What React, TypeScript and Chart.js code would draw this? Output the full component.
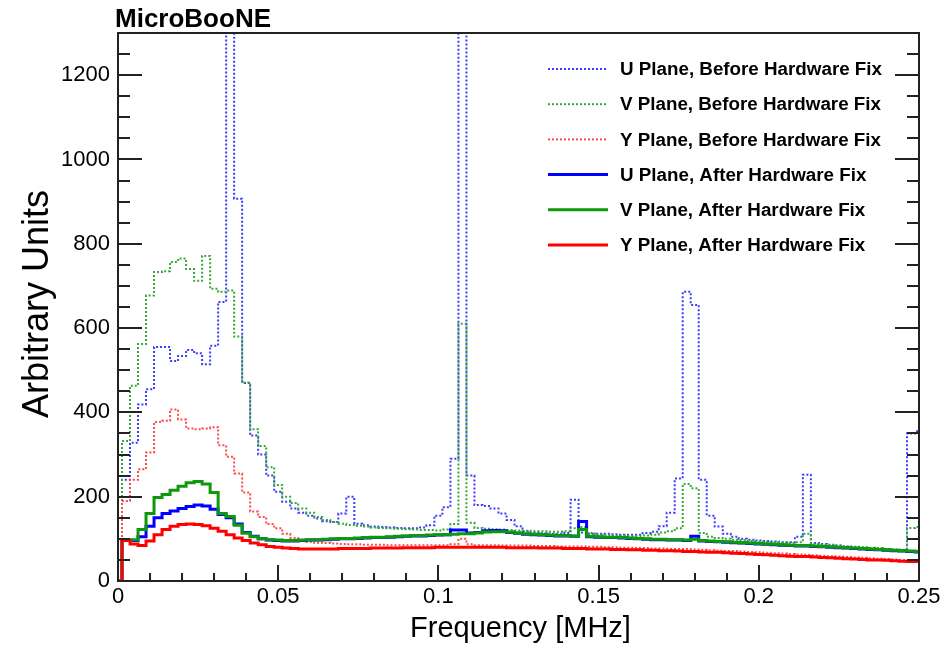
import { useEffect, useRef } from "react";
import { Chart, registerables } from "chart.js";

Chart.register(...registerables);

// Histogram bin width (MHz); bin k is centred on k * BIN_WIDTH
const BIN_WIDTH = 0.0025;

const U_BEFORE = [
  0, 240, 328, 419, 455, 555, 555, 522, 534, 548,
  540, 514, 558, 662, 2500, 907, 470, 345, 300, 250,
  212, 188, 172, 162, 155, 148, 142, 140, 160, 200,
  136, 132, 129, 128, 127, 126, 125, 125, 127, 132,
  155, 175, 290, 2500, 250, 180, 178, 172, 160, 145,
  130, 118, 115, 113, 112, 112, 114, 193, 115, 112,
  112, 112, 111, 110, 110, 110, 114, 117, 130, 162,
  243, 686, 655, 240, 155, 129, 112, 105, 100, 98,
  96, 95, 94, 92, 92, 105, 252, 90, 88, 86,
  84, 82, 80, 79, 78, 77, 76, 74, 73, 350,
  355,
];

const V_BEFORE = [
  0, 332, 463, 562, 677, 733, 735, 757, 765, 740,
  712, 771, 693, 686, 689, 580, 471, 360, 320, 270,
  228, 200, 185, 172, 162, 152, 145, 140, 136, 133,
  131, 129, 127, 126, 125, 124, 123, 122, 121, 121,
  120, 122, 135, 610, 138, 126, 124, 123, 122, 121,
  120, 119, 118, 118, 117, 117, 118, 125, 128, 114,
  110, 109, 108, 108, 107, 107, 108, 110, 115, 118,
  125, 230, 220, 114, 105, 102, 100, 98, 97, 95,
  94, 93, 92, 91, 90, 92, 112, 88, 86, 85,
  84, 82, 81, 80, 79, 78, 76, 75, 74, 126,
  128,
];

const Y_BEFORE = [
  0, 190, 240, 265, 305, 377, 380, 407, 383, 362,
  360, 362, 365, 322, 295, 255, 210, 165, 152, 135,
  125, 112, 102, 96, 93, 91, 90, 89, 88, 87,
  87, 86, 86, 86, 85, 85, 85, 85, 85, 85,
  85, 85, 87, 100, 87, 85, 85, 85, 84, 84,
  84, 84, 83, 83, 83, 82, 82, 82, 82, 81,
  81, 80, 80, 79, 79, 78, 78, 77, 77, 76,
  76, 76, 75, 74, 73, 72, 71, 71, 70, 69,
  68, 67, 66, 65, 64, 63, 62, 61, 60, 59,
  58, 57, 56, 55, 54, 53, 52, 51, 50, 49,
  48,
];

const U_AFTER = [
  0, 96, 96, 105, 130, 150, 160, 166, 172, 177,
  180, 178, 170, 158, 150, 135, 115, 106, 100, 97,
  96, 95, 95, 96, 97, 97, 98, 99, 100, 100,
  101, 102, 103, 103, 104, 105, 106, 107, 107, 108,
  109, 110, 121, 121, 114, 115, 119, 120, 119, 115,
  113, 111, 110, 109, 108, 107, 107, 106, 141, 105,
  104, 103, 103, 102, 101, 100, 99, 98, 98, 97,
  97, 96, 106, 95, 94, 93, 92, 91, 90, 89,
  88, 87, 86, 85, 84, 83, 83, 82, 81, 80,
  79, 78, 77, 76, 75, 74, 73, 72, 71, 70,
  69,
];

const V_AFTER = [
  0, 96, 98, 122, 160, 198, 205, 215, 225, 233,
  236, 230, 210, 160, 153, 132, 113, 105, 100, 98,
  97, 96, 96, 97, 98, 98, 99, 100, 101, 101,
  102, 103, 104, 104, 105, 106, 107, 108, 108, 109,
  110, 110, 111, 112, 112, 114, 116, 117, 117, 116,
  114, 112, 111, 110, 109, 108, 108, 107, 122, 106,
  105, 104, 104, 103, 102, 101, 100, 99, 99, 98,
  98, 97, 99, 96, 95, 94, 93, 92, 91, 90,
  89, 88, 87, 86, 85, 84, 84, 83, 82, 81,
  80, 79, 78, 77, 76, 75, 74, 73, 72, 71,
  70,
];

const Y_AFTER = [
  0, 96, 88, 84, 95, 110, 122, 130, 134, 135,
  134, 131, 125, 118, 110, 102, 96, 90, 86, 82,
  80, 78, 77, 76, 76, 76, 76, 76, 77, 77,
  77, 77, 78, 78, 78, 78, 79, 79, 79, 79,
  80, 80, 80, 80, 80, 80, 80, 80, 80, 79,
  79, 79, 79, 78, 78, 78, 77, 77, 77, 76,
  76, 76, 75, 75, 74, 74, 73, 73, 72, 72,
  71, 70, 70, 69, 68, 68, 67, 66, 65, 64,
  63, 62, 61, 60, 59, 58, 58, 57, 56, 55,
  54, 53, 52, 51, 50, 50, 49, 48, 47, 46,
  46,
];

const SERIES_LABELS = [
  "U Plane, Before Hardware Fix",
  "V Plane, Before Hardware Fix",
  "Y Plane, Before Hardware Fix",
  "U Plane, After Hardware Fix",
  "V Plane, After Hardware Fix",
  "Y Plane, After Hardware Fix",
];

const X_TICKS = [0, 0.05, 0.1, 0.15, 0.2, 0.25];
const Y_TICKS = [0, 200, 400, 600, 800, 1000, 1200];
const X_MIN = 0;
const X_MAX = 0.25;
const Y_MIN = 0;
const Y_MAX = 1300;

const TITLE = "MicroBooNE";
const X_TITLE = "Frequency [MHz]";
const Y_TITLE = "Arbitrary Units";

const FONT = "'Liberation Sans', Arial, Helvetica, sans-serif";

const toPoints = (vals: number[]) =>
  vals.map((v, i) => ({ x: i * BIN_WIDTH, y: v }));

const decorPlugin = {
  id: "rootDecor",
  afterDatasetsDraw(chart: any) {
    const { ctx, chartArea } = chart;
    const { left, right, top, bottom } = chartArea;
    const xs = chart.scales.x;
    const ys = chart.scales.y;
    ctx.save();
    ctx.strokeStyle = "#222";
    ctx.lineWidth = 2;
    ctx.setLineDash([]);
    // y ticks, left and right, major every 200, minor every 50
    for (let v = Y_MIN; v <= Y_MAX; v += 50) {
      const y = Math.round(ys.getPixelForValue(v));
      const major = v % 200 === 0;
      const len = major ? 24 : 12;
      ctx.beginPath();
      ctx.moveTo(left, y);
      ctx.lineTo(left + len, y);
      ctx.moveTo(right, y);
      ctx.lineTo(right - len, y);
      ctx.stroke();
    }
    // x ticks, major every 0.05, minor every 0.01
    for (let i = 0; i <= 25; i++) {
      const x = Math.round(xs.getPixelForValue(i * 0.01));
      const len = i % 5 === 0 ? 16 : 8;
      ctx.beginPath();
      ctx.moveTo(x, bottom);
      ctx.lineTo(x, bottom - len);
      ctx.stroke();
    }
    ctx.strokeRect(left, top, right - left, bottom - top);

    // legend
    const datasets = chart.data.datasets;
    const lx0 = left + 430;
    const lx1 = left + 490;
    const tx = left + 502;
    ctx.font = `bold 18.8px ${FONT}`;
    ctx.textBaseline = "middle";
    ctx.textAlign = "left";
    datasets.forEach((ds: any, i: number) => {
      const y = top + 36 + i * 35.2;
      ctx.beginPath();
      ctx.strokeStyle = ds.borderColor;
      ctx.lineWidth = ds.borderWidth;
      ctx.setLineDash(ds.borderDash || []);
      ctx.moveTo(lx0, y);
      ctx.lineTo(lx1, y);
      ctx.stroke();
      ctx.setLineDash([]);
      ctx.fillStyle = "#000";
      ctx.fillText(ds.label, tx, y + 1);
    });
    ctx.restore();
  },
  afterDraw(chart: any) {
    const { ctx, chartArea } = chart;
    ctx.save();
    ctx.fillStyle = "#000";
    ctx.textBaseline = "alphabetic";
    ctx.font = `bold 26px ${FONT}`;
    ctx.textAlign = "left";
    ctx.fillText(TITLE, chartArea.left - 3, chartArea.top - 6);

    ctx.font = `29px ${FONT}`;
    ctx.textAlign = "center";
    ctx.fillText(X_TITLE, (chartArea.left + chartArea.right) / 2 + 2, 637);

    ctx.translate(48, 304);
    ctx.rotate(-Math.PI / 2);
    ctx.font = `36px ${FONT}`;
    ctx.fillText(Y_TITLE, 0, 0);
    ctx.restore();
  },
};

export default function App() {
  const ref = useRef<HTMLCanvasElement | null>(null);

  useEffect(() => {
    if (!ref.current) return;
    const dotted = [2, 2];
    const chart = new Chart(ref.current, {
      type: "line",
      data: {
        datasets: [
          { label: SERIES_LABELS[0], data: toPoints(U_BEFORE), borderColor: "#3c3cff", borderWidth: 2, borderDash: dotted, order: 6 },
          { label: SERIES_LABELS[1], data: toPoints(V_BEFORE), borderColor: "#38a838", borderWidth: 2, borderDash: dotted, order: 5 },
          { label: SERIES_LABELS[2], data: toPoints(Y_BEFORE), borderColor: "#ff4a4a", borderWidth: 2, borderDash: dotted, order: 4 },
          { label: SERIES_LABELS[3], data: toPoints(U_AFTER), borderColor: "#0000ff", borderWidth: 3, order: 3 },
          { label: SERIES_LABELS[4], data: toPoints(V_AFTER), borderColor: "#0c9a0c", borderWidth: 3, order: 2 },
          { label: SERIES_LABELS[5], data: toPoints(Y_AFTER), borderColor: "#ff0000", borderWidth: 3, order: 1 },
        ] as any,
      },
      options: {
        responsive: false,
        animation: false,
        devicePixelRatio: 1,
        layout: { padding: { top: 33, right: 30, left: 0, bottom: 0 } },
        elements: {
          point: { radius: 0, hoverRadius: 0 },
          line: { stepped: "middle" as any, tension: 0, fill: false },
        },
        plugins: {
          legend: { display: false },
          tooltip: { enabled: false },
          title: { display: false },
        },
        events: [],
        scales: {
          x: {
            type: "linear",
            min: X_MIN,
            max: X_MAX,
            grid: { display: false, drawTicks: false },
            border: { display: false },
            afterBuildTicks: (scale: any) => {
              scale.ticks = X_TICKS.map((v) => ({ value: v }));
            },
            afterFit: (scale: any) => {
              scale.height = 65;
            },
            ticks: {
              padding: 3,
              color: "#000",
              font: { family: FONT, size: 22 },
              maxRotation: 0,
              autoSkip: false,
              callback: (v: any) => String(Number(Number(v).toFixed(3))),
            },
          },
          y: {
            type: "linear",
            min: Y_MIN,
            max: Y_MAX,
            grid: { display: false, drawTicks: false },
            border: { display: false },
            afterBuildTicks: (scale: any) => {
              scale.ticks = Y_TICKS.map((v) => ({ value: v }));
            },
            afterFit: (scale: any) => {
              scale.width = 118;
            },
            ticks: {
              padding: 8,
              color: "#000",
              font: { family: FONT, size: 22 },
              autoSkip: false,
              callback: (v: any) => String(v),
            },
          },
        },
      },
      plugins: [decorPlugin],
    });
    return () => chart.destroy();
  }, []);

  return (
    <div style={{ position: "fixed", left: 0, top: 0, width: 949, height: 646, background: "#fff" }}>
      <canvas ref={ref} width={949} height={646} style={{ display: "block", width: 949, height: 646 }} />
    </div>
  );
}
